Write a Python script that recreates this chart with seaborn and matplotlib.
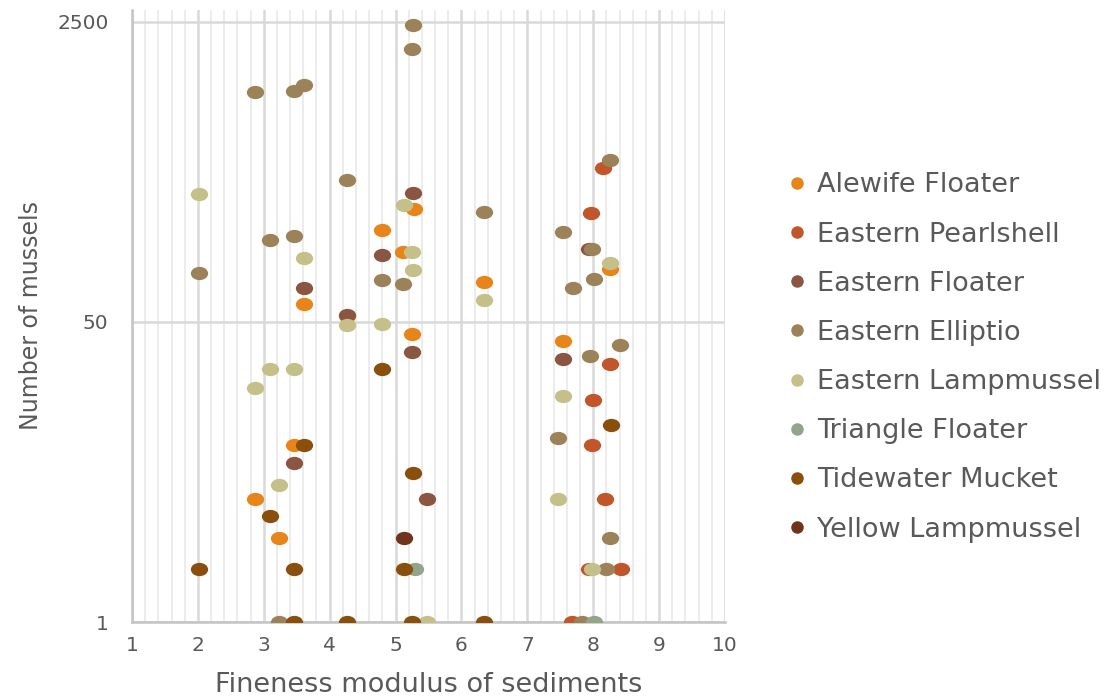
import numpy as np
import pandas as pd
import matplotlib
matplotlib.use("Agg")
import matplotlib.pyplot as plt
from matplotlib.path import Path
from matplotlib.markers import MarkerStyle
from matplotlib.transforms import Affine2D
from matplotlib.lines import Line2D
from matplotlib.ticker import MultipleLocator, FixedLocator, NullLocator
import seaborn as sns

# Species and their colours (legend order = drawing order)
species = [
    "Alewife Floater", "Eastern Pearlshell", "Eastern Floater", "Eastern Elliptio",
    "Eastern Lampmussel", "Triangle Floater", "Tidewater Mucket", "Yellow Lampmussel",
]
palette = ["#E8851A", "#C1562B", "#8A5641", "#9C8258",
           "#C5C089", "#93A488", "#8A4F0D", "#6F3419"]

# Fineness modulus of sediments (x) and number of mussels (y) per species
alewife_fm = [4.80, 5.28, 5.12, 3.61, 4.27, 5.25, 3.46, 2.86, 3.23, 6.34, 8.26, 7.54]
alewife_n = [165, 218, 124, 63, 54, 43, 10, 5, 3, 84, 100, 39]

pearlshell_fm = [8.15, 7.97, 8.26, 8.00, 7.98, 8.18, 7.93, 8.42, 7.68]
pearlshell_n = [371, 206, 29, 18, 10, 5, 2, 2, 1]

floater_fm = [5.27, 4.80, 3.61, 4.27, 5.25, 3.46, 5.47, 7.93, 7.54]
floater_n = [267, 119, 78, 55, 34, 8, 5, 130, 31]

elliptio_fm = [5.27, 5.25, 2.86, 3.46, 3.61, 4.27, 6.34, 3.09, 3.46, 2.01, 4.80, 5.12,
               8.26, 7.54, 7.98, 8.01, 7.69, 8.41, 7.95, 7.47, 8.26, 8.19, 3.23, 7.83]
elliptio_n = [2400, 1750, 1000, 1020, 1100, 320, 210, 146, 153, 95, 86, 82,
              411, 162, 130, 88, 78, 37, 32, 11, 3, 2, 1, 1]

lampmussel_fm = [2.01, 5.13, 5.25, 3.61, 5.27, 4.27, 4.80, 6.34, 3.09, 3.46, 2.86, 3.23,
                 8.26, 7.54, 7.47, 7.98, 5.47]
lampmussel_n = [266, 230, 124, 115, 99, 48, 49, 67, 27, 27, 21, 6,
                108, 19, 5, 2, 1]

triangle_fm = [5.29, 8.01]
triangle_n = [2, 1]

mucket_fm = [4.80, 3.61, 5.27, 3.09, 2.01, 3.46, 5.13, 8.27, 3.46, 4.27, 5.25, 6.34]
mucket_n = [27, 10, 7, 4, 2, 2, 2, 13, 1, 1, 1, 1]

yellow_fm = [5.13]
yellow_n = [3]

series_fm = [alewife_fm, pearlshell_fm, floater_fm, elliptio_fm,
             lampmussel_fm, triangle_fm, mucket_fm, yellow_fm]
series_n = [alewife_n, pearlshell_n, floater_n, elliptio_n,
            lampmussel_n, triangle_n, mucket_n, yellow_n]

df = pd.concat(
    [pd.DataFrame({"species": sp, "fineness": fm, "count": n})
     for sp, fm, n in zip(species, series_fm, series_n)],
    ignore_index=True,
)

x_ticks = list(range(1, 11))
y_ticks = [1, 50, 2500]
y_ticklabels = ["1", "50", "2500"]

sns.set_style("white")
plt.rcParams["font.family"] = ["DejaVu Sans"]
text_color = "#595959"

fig = plt.figure(figsize=(11.19, 7.0), dpi=100)
ax = fig.add_axes([132 / 1119, 1 - 622 / 700, (725 - 132) / 1119, (622 - 10) / 700])

# slightly wide oval marker
oval = MarkerStyle(Affine2D().scale(1.3, 1.0).transform_path(Path.unit_circle()))

for sp, col in zip(species, palette):
    sns.scatterplot(
        data=df[df["species"] == sp], x="fineness", y="count",
        color=col, marker=oval, s=155, linewidth=0, alpha=1.0,
        legend=False, ax=ax, zorder=3,
    )

ax.set_yscale("log")
ax.set_xlim(1, 10)
ax.set_ylim(1, 2920)
ax.xaxis.set_major_locator(FixedLocator(x_ticks))
ax.xaxis.set_minor_locator(MultipleLocator(0.2))
ax.set_xticklabels([str(t) for t in x_ticks])
ax.yaxis.set_major_locator(FixedLocator(y_ticks))
ax.yaxis.set_minor_locator(NullLocator())
ax.set_yticklabels(y_ticklabels)

ax.grid(which="major", axis="both", color="#d9d9d9", linewidth=1.8, zorder=0)
ax.grid(which="minor", axis="x", color="#ececec", linewidth=1.4, zorder=0)
ax.set_axisbelow(True)

for side in ["top", "right"]:
    ax.spines[side].set_visible(False)
for side in ["left", "bottom"]:
    ax.spines[side].set_color("#c4c4c4")
    ax.spines[side].set_linewidth(1.8)

ax.tick_params(axis="both", which="both", length=0, colors=text_color)
ax.tick_params(axis="x", labelsize=14.5, pad=10)
ax.tick_params(axis="y", labelsize=14.5, pad=17)

ax.set_xlabel("Fineness modulus of sediments", fontsize=19.5, color=text_color)
ax.set_ylabel("Number of mussels", fontsize=17, color=text_color)
ax.xaxis.set_label_coords(0.5, -0.081)
ax.yaxis.set_label_coords(-0.15, 0.5)

handles = [Line2D([], [], linestyle="none", marker="o", markersize=9,
                  markerfacecolor=c, markeredgewidth=0) for c in palette]
fig.legend(
    handles, species, loc="center left", bbox_to_anchor=(790 / 1119, 1 - 357.5 / 700),
    frameon=False, fontsize=19.5, labelcolor=text_color, handlelength=0.55,
    handletextpad=0.45, labelspacing=0.855, borderpad=0, borderaxespad=0,
)

fig.savefig("out.png", dpi=100)
